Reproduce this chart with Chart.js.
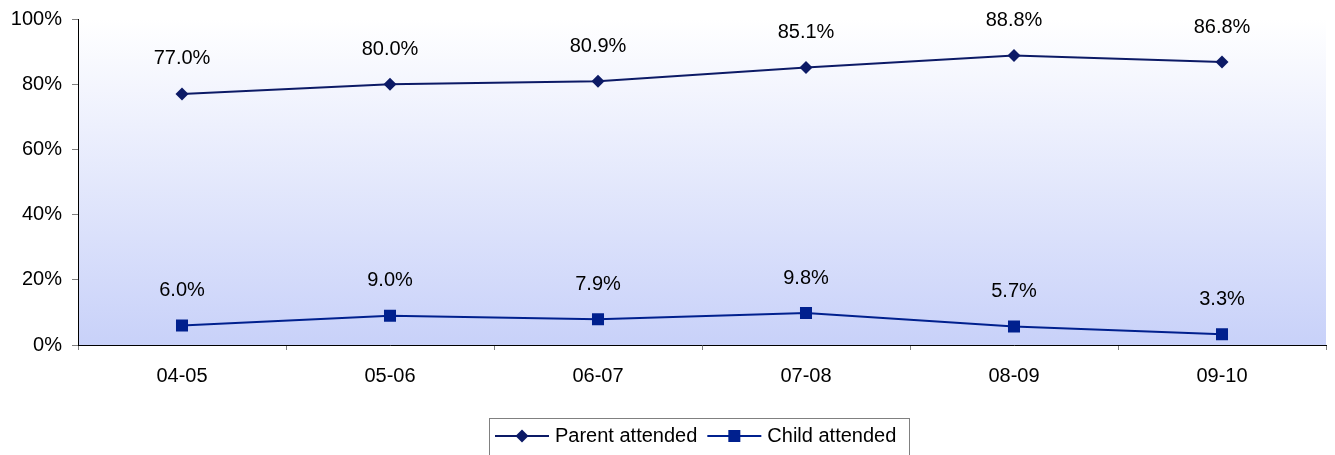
<!DOCTYPE html>
<html>
<head>
<meta charset="utf-8">
<script src="https://cdn.jsdelivr.net/npm/chart.js@4"></script>
<style>
html,body{margin:0;padding:0;background:#fff;}
#wrap{width:1335px;height:455px;position:relative;}
</style>
</head>
<body>
<div id="wrap"><canvas id="c" width="1335" height="455"></canvas></div>
<script>
const categories = ['04-05','05-06','06-07','07-08','08-09','09-10'];
const parentAttended = [77.0, 80.0, 80.9, 85.1, 88.8, 86.8];
const childAttended = [6.0, 9.0, 7.9, 9.8, 5.7, 3.3];
const seriesNames = ['Parent attended','Child attended'];
const yTicks = [0,20,40,60,80,100];

const FONT = "'Liberation Sans', Arial, sans-serif";
const PARENT_COLOR = '#0c1a66';
const CHILD_COLOR = '#00208e';

const bgPlugin = {
  id:'bg',
  beforeDraw(chart){
    const {ctx, chartArea:a} = chart;
    const g = ctx.createLinearGradient(0,a.top,0,a.bottom);
    g.addColorStop(0,'#ffffff');
    g.addColorStop(1,'#c8d1f9');
    ctx.save();
    ctx.fillStyle = g;
    ctx.fillRect(a.left,a.top,a.right-a.left,a.bottom-a.top);
    ctx.restore();
  }
};

const labelPlugin = {
  id:'lbl',
  afterDatasetsDraw(chart){
    const ctx = chart.ctx;
    ctx.save();
    ctx.font = '20px ' + FONT;
    ctx.fillStyle = '#000';
    ctx.textAlign = 'center';
    ctx.textBaseline = 'middle';
    chart.data.datasets.forEach((ds,i)=>{
      chart.getDatasetMeta(i).data.forEach((pt,j)=>{
        ctx.fillText(ds.data[j].toFixed(1)+'%', pt.x, pt.y-35);
      });
    });
    ctx.restore();
  }
};

const legendPlugin = {
  id:'customLegend',
  afterDraw(chart){
    const ctx = chart.ctx;
    ctx.save();
    const box = {x:489.5, y:418.5, w:420, h:40};
    ctx.strokeStyle = '#808080';
    ctx.lineWidth = 1;
    ctx.strokeRect(box.x, box.y, box.w, box.h);
    ctx.font = '20px ' + FONT;
    ctx.textBaseline = 'middle';
    ctx.textAlign = 'left';
    const cy = 436;
    let x = 495;
    chart.data.datasets.forEach((ds,i)=>{
      ctx.strokeStyle = ds.borderColor;
      ctx.lineWidth = 2;
      ctx.beginPath(); ctx.moveTo(x,cy); ctx.lineTo(x+54,cy); ctx.stroke();
      ctx.fillStyle = ds.pointBackgroundColor;
      const mx = x+27;
      if (ds.pointStyle === 'rectRot') {
        const r = 6.5;
        ctx.beginPath(); ctx.moveTo(mx,cy-r); ctx.lineTo(mx+r,cy); ctx.lineTo(mx,cy+r); ctx.lineTo(mx-r,cy); ctx.closePath(); ctx.fill();
      } else {
        ctx.fillRect(mx-6, cy-6, 12, 12);
      }
      ctx.fillStyle = '#000';
      ctx.fillText(ds.label, x+60, cy);
      x += 60 + ctx.measureText(ds.label).width + 10;
    });
    ctx.restore();
  }
};

new Chart(document.getElementById('c'), {
  type:'line',
  data:{
    labels: categories,
    datasets:[
      {label:seriesNames[0], data:parentAttended, borderColor:PARENT_COLOR, backgroundColor:PARENT_COLOR,
       pointBackgroundColor:PARENT_COLOR, pointBorderColor:PARENT_COLOR, pointStyle:'rectRot', pointRadius:6.5, pointBorderWidth:0,
       borderWidth:2, tension:0},
      {label:seriesNames[1], data:childAttended, borderColor:CHILD_COLOR, backgroundColor:CHILD_COLOR,
       pointBackgroundColor:CHILD_COLOR, pointBorderColor:CHILD_COLOR, pointStyle:'rect', pointRadius:8.5, pointBorderWidth:0,
       borderWidth:2, tension:0}
    ]
  },
  options:{
    responsive:false,
    animation:false,
    devicePixelRatio:1,
    layout:{padding:{left:0,right:9,top:19,bottom:0}},
    plugins:{legend:{display:false}, tooltip:{enabled:false}},
    scales:{
      x:{
        offset:true,
        grid:{offset:true, drawOnChartArea:false, drawTicks:true, tickLength:5, color:'#808080'},
        border:{color:'#000', width:1},
        ticks:{font:{family:FONT,size:20}, color:'#000', padding:14, maxRotation:0},
        afterFit(s){ s.height = 110; s.paddingLeft = 0; s.paddingRight = 0; }
      },
      y:{
        min:0, max:100,
        afterBuildTicks(s){ s.ticks = yTicks.map(v=>({value:v})); },
        grid:{drawOnChartArea:false, drawTicks:true, tickLength:6, color:'#808080'},
        border:{color:'#000', width:1},
        ticks:{font:{family:FONT,size:20}, color:'#000', padding:10, callback:v=>v+'%'},
        afterFit(s){ s.width = 78; s.paddingTop = 0; s.paddingBottom = 0; }
      }
    }
  },
  plugins:[bgPlugin, labelPlugin, legendPlugin]
});
</script>
</body>
</html>
